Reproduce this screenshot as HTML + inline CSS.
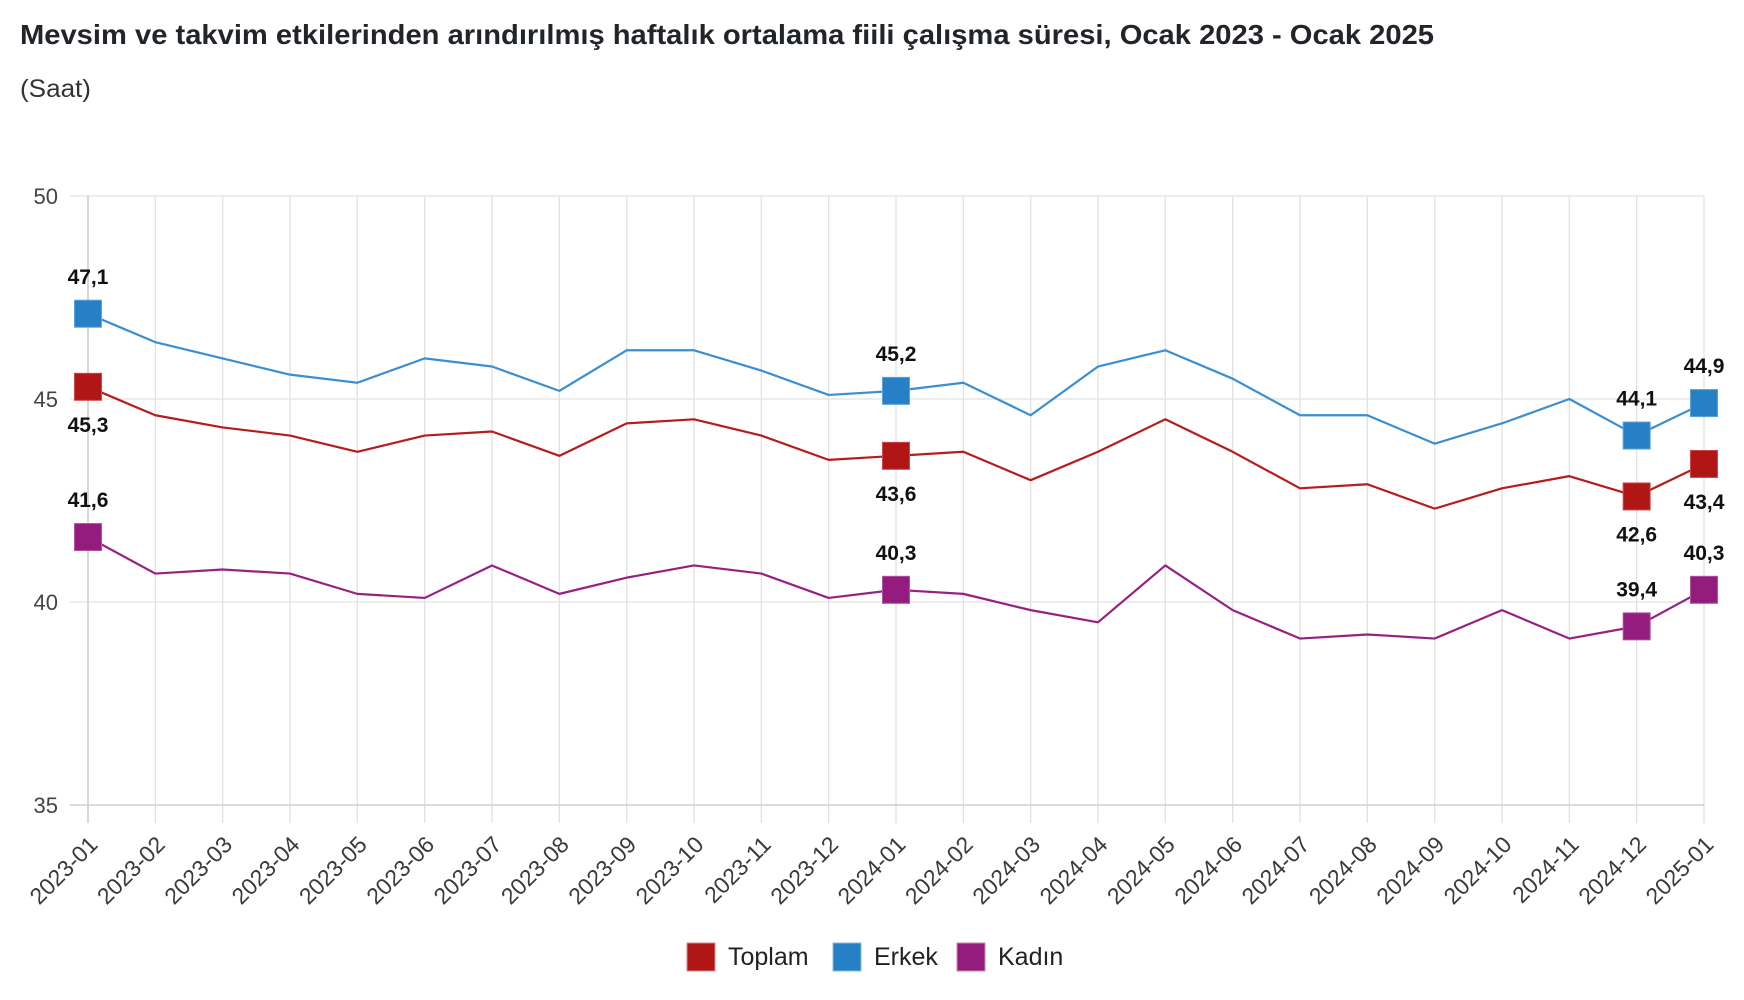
<!DOCTYPE html>
<html>
<head>
<meta charset="utf-8">
<style>
html,body{margin:0;padding:0;background:#fff;}
svg{display:block;}
</style>
</head>
<body>
<svg width="1744" height="1000" viewBox="0 0 1744 1000" xmlns="http://www.w3.org/2000/svg" font-family="Liberation Sans, Arial, sans-serif">
<rect width="1744" height="1000" fill="#fff"/>
<text x="20" y="44" font-size="28" font-weight="bold" fill="#212529" textLength="1414" lengthAdjust="spacingAndGlyphs">Mevsim ve takvim etkilerinden arındırılmış haftalık ortalama fiili çalışma süresi, Ocak 2023 - Ocak 2025</text>
<text x="20" y="97" font-size="25" fill="#333" textLength="71" lengthAdjust="spacingAndGlyphs">(Saat)</text>

<!-- horizontal gridlines -->
<g stroke="#e2e2e2" stroke-width="1.3">
<line x1="70" y1="196" x2="1704" y2="196"/>
<line x1="70" y1="399" x2="1704" y2="399"/>
<line x1="70" y1="602" x2="1704" y2="602"/>
</g>
<!-- vertical gridlines -->
<g stroke="#e2e2e2" stroke-width="1.3">
<line x1="155.33" y1="196" x2="155.33" y2="823"/>
<line x1="222.67" y1="196" x2="222.67" y2="823"/>
<line x1="290" y1="196" x2="290" y2="823"/>
<line x1="357.33" y1="196" x2="357.33" y2="823"/>
<line x1="424.67" y1="196" x2="424.67" y2="823"/>
<line x1="492" y1="196" x2="492" y2="823"/>
<line x1="559.33" y1="196" x2="559.33" y2="823"/>
<line x1="626.67" y1="196" x2="626.67" y2="823"/>
<line x1="694" y1="196" x2="694" y2="823"/>
<line x1="761.33" y1="196" x2="761.33" y2="823"/>
<line x1="828.67" y1="196" x2="828.67" y2="823"/>
<line x1="896" y1="196" x2="896" y2="823"/>
<line x1="963.33" y1="196" x2="963.33" y2="823"/>
<line x1="1030.67" y1="196" x2="1030.67" y2="823"/>
<line x1="1098" y1="196" x2="1098" y2="823"/>
<line x1="1165.33" y1="196" x2="1165.33" y2="823"/>
<line x1="1232.67" y1="196" x2="1232.67" y2="823"/>
<line x1="1300" y1="196" x2="1300" y2="823"/>
<line x1="1367.33" y1="196" x2="1367.33" y2="823"/>
<line x1="1434.67" y1="196" x2="1434.67" y2="823"/>
<line x1="1502" y1="196" x2="1502" y2="823"/>
<line x1="1569.33" y1="196" x2="1569.33" y2="823"/>
<line x1="1636.67" y1="196" x2="1636.67" y2="823"/>
<line x1="1704" y1="196" x2="1704" y2="823"/>
</g>
<!-- axes -->
<g stroke="#cfcfcf" stroke-width="1.6">
<line x1="88" y1="196" x2="88" y2="823"/>
<line x1="70" y1="805" x2="1704" y2="805"/>
</g>

<!-- y labels -->
<g font-size="22" fill="#444" text-anchor="end">
<text x="58" y="204">50</text>
<text x="58" y="407">45</text>
<text x="58" y="610">40</text>
<text x="58" y="813">35</text>
</g>

<!-- x labels -->
<g font-size="23" fill="#3a3a3a" text-anchor="end">
<text transform="translate(99,846) rotate(-45)">2023-01</text>
<text transform="translate(166.33,846) rotate(-45)">2023-02</text>
<text transform="translate(233.67,846) rotate(-45)">2023-03</text>
<text transform="translate(301,846) rotate(-45)">2023-04</text>
<text transform="translate(368.33,846) rotate(-45)">2023-05</text>
<text transform="translate(435.67,846) rotate(-45)">2023-06</text>
<text transform="translate(503,846) rotate(-45)">2023-07</text>
<text transform="translate(570.33,846) rotate(-45)">2023-08</text>
<text transform="translate(637.67,846) rotate(-45)">2023-09</text>
<text transform="translate(705,846) rotate(-45)">2023-10</text>
<text transform="translate(772.33,846) rotate(-45)">2023-11</text>
<text transform="translate(839.67,846) rotate(-45)">2023-12</text>
<text transform="translate(907,846) rotate(-45)">2024-01</text>
<text transform="translate(974.33,846) rotate(-45)">2024-02</text>
<text transform="translate(1041.67,846) rotate(-45)">2024-03</text>
<text transform="translate(1109,846) rotate(-45)">2024-04</text>
<text transform="translate(1176.33,846) rotate(-45)">2024-05</text>
<text transform="translate(1243.67,846) rotate(-45)">2024-06</text>
<text transform="translate(1311,846) rotate(-45)">2024-07</text>
<text transform="translate(1378.33,846) rotate(-45)">2024-08</text>
<text transform="translate(1445.67,846) rotate(-45)">2024-09</text>
<text transform="translate(1513,846) rotate(-45)">2024-10</text>
<text transform="translate(1580.33,846) rotate(-45)">2024-11</text>
<text transform="translate(1647.67,846) rotate(-45)">2024-12</text>
<text transform="translate(1715,846) rotate(-45)">2025-01</text>
</g>

<!-- series lines -->
<g fill="none" stroke-width="2.2" stroke-linejoin="round">
<polyline stroke="#3a8fd4" points="88,313.74 155.33,342.16 222.67,358.4 290,374.64 357.33,382.76 424.67,358.4 492,366.52 559.33,390.88 626.67,350.28 694,350.28 761.33,370.58 828.67,394.94 896,390.88 963.33,382.76 1030.67,415.24 1098,366.52 1165.33,350.28 1232.67,378.7 1300,415.24 1367.33,415.24 1434.67,443.66 1502,423.36 1569.33,399 1636.67,435.54 1704,403.06"/>
<polyline stroke="#b71c1c" points="88,386.82 155.33,415.24 222.67,427.42 290,435.54 357.33,451.78 424.67,435.54 492,431.48 559.33,455.84 626.67,423.36 694,419.3 761.33,435.54 828.67,459.9 896,455.84 963.33,451.78 1030.67,480.2 1098,451.78 1165.33,419.3 1232.67,451.78 1300,488.32 1367.33,484.26 1434.67,508.62 1502,488.32 1569.33,476.14 1636.67,496.44 1704,463.96"/>
<polyline stroke="#972183" points="88,537.04 155.33,573.58 222.67,569.52 290,573.58 357.33,593.88 424.67,597.94 492,565.46 559.33,593.88 626.67,577.64 694,565.46 761.33,573.58 828.67,597.94 896,589.82 963.33,593.88 1030.67,610.12 1098,622.3 1165.33,565.46 1232.67,610.12 1300,638.54 1367.33,634.48 1434.67,638.54 1502,610.12 1569.33,638.54 1636.67,626.36 1704,589.82"/>
</g>

<!-- markers -->
<g fill="#2680c6" stroke="#5aa3dc" stroke-width="1">
<rect x="74.5" y="300.24" width="27" height="27"/>
<rect x="882.5" y="377.38" width="27" height="27"/>
<rect x="1623.17" y="422.04" width="27" height="27"/>
<rect x="1690.5" y="389.56" width="27" height="27"/>
</g>
<g fill="#b01616" stroke="#cc4a4a" stroke-width="1">
<rect x="74.5" y="373.32" width="27" height="27"/>
<rect x="882.5" y="442.34" width="27" height="27"/>
<rect x="1623.17" y="482.94" width="27" height="27"/>
<rect x="1690.5" y="450.46" width="27" height="27"/>
</g>
<g fill="#941c7e" stroke="#b055a0" stroke-width="1">
<rect x="74.5" y="523.54" width="27" height="27"/>
<rect x="882.5" y="576.32" width="27" height="27"/>
<rect x="1623.17" y="612.86" width="27" height="27"/>
<rect x="1690.5" y="576.32" width="27" height="27"/>
</g>

<!-- data labels -->
<g font-size="21" font-weight="bold" fill="#111" text-anchor="middle">
<text x="88" y="284">47,1</text>
<text x="896" y="361">45,2</text>
<text x="1636.67" y="405.5">44,1</text>
<text x="1704" y="373">44,9</text>
<text x="88" y="432">45,3</text>
<text x="896" y="501">43,6</text>
<text x="1636.67" y="541.5">42,6</text>
<text x="1704" y="509">43,4</text>
<text x="88" y="507">41,6</text>
<text x="896" y="560">40,3</text>
<text x="1636.67" y="596.5">39,4</text>
<text x="1704" y="560">40,3</text>
</g>

<!-- legend -->
<rect x="687" y="943" width="28" height="28" fill="#b01616" stroke="#d88" stroke-width="1"/>
<rect x="833" y="943" width="28" height="28" fill="#2680c6" stroke="#8bc" stroke-width="1"/>
<rect x="957" y="943" width="28" height="28" fill="#941c7e" stroke="#c8a" stroke-width="1"/>
<g font-size="25" fill="#222">
<text x="728" y="965">Toplam</text>
<text x="874" y="965">Erkek</text>
<text x="998" y="965">Kadın</text>
</g>
</svg>
</body>
</html>
